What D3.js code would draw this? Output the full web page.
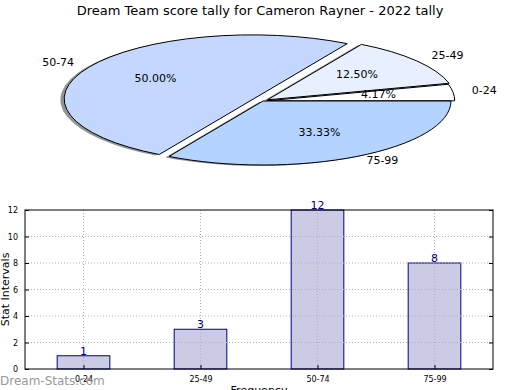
<!DOCTYPE html>
<html>
<head>
<meta charset="utf-8">
<script src="https://cdn.jsdelivr.net/npm/d3@7"></script>
<style>
body{margin:0;background:#fff;}
svg text{font-family:"DejaVu Sans",sans-serif;}
</style>
</head>
<body>
<div id="plot"></div>
<script>
//data
var categories = ['0-24','25-49','50-74','75-99'];
var counts = [1,3,12,8];
var sliceColors = ['#ffffff','#e8f0ff','#c4d8ff','#b4d4ff'];
var explode = [0.02,0.03,0.06,0];
var yTicks = [0,2,4,6,8,10,12];

var width = 520, height = 390;

var svg = d3.select('#plot')
	.append('svg')
	.attr('width',width)
	.attr('height',height);

svg.append('text')
	.attr('x',260)
	.attr('y',15)
	.attr('text-anchor','middle')
	.style('font-size','13px')
	.text('Dream Team score tally for Cameron Rayner - 2022 tally');

//pie, squashed into an ellipse
var cx = 263, cy = 101, rx = 188, ry = 64;
var total = d3.sum(counts);
var toRad = Math.PI/180;

var slices = [];
var start = 0;
counts.forEach(function(c,i){
	var span = c/total*360;
	var mid = start+span/2;
	slices.push({
		cat:categories[i],
		value:c,
		a0:start,
		a1:start+span,
		mid:mid,
		e:explode[i],
		dx:explode[i]*rx*Math.cos(mid*toRad),
		dy:-explode[i]*ry*Math.sin(mid*toRad),
		color:sliceColors[i],
		pct:(c/total*100).toFixed(2)+'%'
	});
	start += span;
});

//matplotlib angle (ccw from +x) to d3 angle (cw from top)
var arc = d3.arc()
	.innerRadius(0)
	.outerRadius(1)
	.startAngle(function(d){return (90-d.a0)*toRad;})
	.endAngle(function(d){return (90-d.a1)*toRad;});

var pie = svg.append('g');

//shadows first
slices.forEach(function(d){
	pie.append('path')
		.attr('d',arc(d))
		.attr('transform','translate('+(cx+d.dx-0.02*rx)+','+(cy+d.dy+0.015*ry)+') scale('+rx+','+ry+')')
		.style('fill','#888')
		.style('opacity',0.9);
});

slices.forEach(function(d){
	pie.append('path')
		.attr('d',arc(d))
		.attr('transform','translate('+(cx+d.dx)+','+(cy+d.dy)+') scale('+rx+','+ry+')')
		.style('fill',d.color)
		.style('stroke','#000')
		.style('stroke-width',1)
		.attr('vector-effect','non-scaling-stroke');
});

slices.forEach(function(d){
	var c = Math.cos(d.mid*toRad), s = Math.sin(d.mid*toRad);
	pie.append('text')
		.attr('x',cx+(1.1+d.e)*rx*c)
		.attr('y',cy-(1.1+d.e)*ry*s+2)
		.attr('text-anchor',c<0?'end':'start')
		.style('font-size','11px')
		.text(d.cat);
	pie.append('text')
		.attr('x',cx+(0.6+d.e)*rx*c)
		.attr('y',cy-(0.6+d.e)*ry*s+2)
		.attr('text-anchor','middle')
		.style('font-size','11px')
		.text(d.pct);
});

//bar chart
var pLeft = 25, pRight = 493, pTop = 210, pBottom = 369;

var x = d3.scaleLinear().domain([-0.5,3.5]).range([pLeft,pRight]);
var y = d3.scaleLinear().domain([0,12]).range([pBottom,pTop]);
var bw = x(0.45)-x(0);

var bars = svg.append('g');

bars.selectAll('rect.bar')
	.data(counts)
	.enter()
	.append('rect')
	.attr('class','bar')
	.attr('x',function(d,i){return x(i)-bw/2;})
	.attr('y',function(d){return y(d);})
	.attr('width',bw)
	.attr('height',function(d){return pBottom-y(d);})
	.style('fill','#cbcbe6')
	.style('stroke','#000080')
	.style('stroke-width',1);

//grid, drawn over the bars as in the picture
bars.selectAll('.hgrid')
	.data(yTicks.slice(1,-1))
	.enter()
	.append('line')
	.attr('x1',pLeft).attr('x2',pRight)
	.attr('y1',function(d){return y(d);})
	.attr('y2',function(d){return y(d);})
	.style('stroke','#b0b0b0')
	.style('stroke-dasharray','1,2');

bars.selectAll('.vgrid')
	.data(categories)
	.enter()
	.append('line')
	.attr('x1',function(d,i){return x(i);})
	.attr('x2',function(d,i){return x(i);})
	.attr('y1',pTop).attr('y2',pBottom)
	.style('stroke','#b0b0b0')
	.style('stroke-dasharray','1,2');

bars.selectAll('text.val')
	.data(counts)
	.enter()
	.append('text')
	.attr('class','val')
	.attr('x',function(d,i){return x(i);})
	.attr('y',function(d){return y(d)-1;})
	.attr('text-anchor','middle')
	.style('font-size','11px')
	.style('fill','#000080')
	.text(function(d){return d;});

//frame
bars.append('rect')
	.attr('x',pLeft).attr('y',pTop)
	.attr('width',pRight-pLeft).attr('height',pBottom-pTop)
	.style('fill','none')
	.style('stroke','#000')
	.style('stroke-width',1);

//ticks
var yAxis = d3.axisLeft(y).tickValues(yTicks).tickSize(-4).tickPadding(7);
var yg = bars.append('g')
	.attr('transform','translate('+pLeft+',0)')
	.call(yAxis);
yg.select('.domain').remove();
yg.selectAll('text').style('font-size','8px').style('font-family','"DejaVu Sans",sans-serif');

var yAxisR = d3.axisRight(y).tickValues(yTicks).tickSize(-4).tickFormat('');
var yr = bars.append('g')
	.attr('transform','translate('+pRight+',0)')
	.call(yAxisR);
yr.select('.domain').remove();

var xAxis = d3.axisBottom(x).tickValues([0,1,2,3]).tickSize(-4).tickPadding(7)
	.tickFormat(function(d){return categories[d];});
var xg = bars.append('g')
	.attr('transform','translate(0,'+pBottom+')')
	.call(xAxis);
xg.select('.domain').remove();
xg.selectAll('text').style('font-size','8px').style('font-family','"DejaVu Sans",sans-serif');

bars.append('text')
	.attr('transform','translate(5,'+((pTop+pBottom)/2)+') rotate(-90)')
	.attr('text-anchor','middle')
	.attr('dy','0.35em')
	.style('font-size','11px')
	.text('Stat Intervals');

bars.append('text')
	.attr('x',259)
	.attr('y',394)
	.attr('text-anchor','middle')
	.style('font-size','11px')
	.text('Frequency');

svg.append('text')
	.attr('x',0)
	.attr('y',385)
	.style('font-size','12px')
	.style('fill','#999')
	.text('Dream-Stats.com');
</script>
</body>
</html>
